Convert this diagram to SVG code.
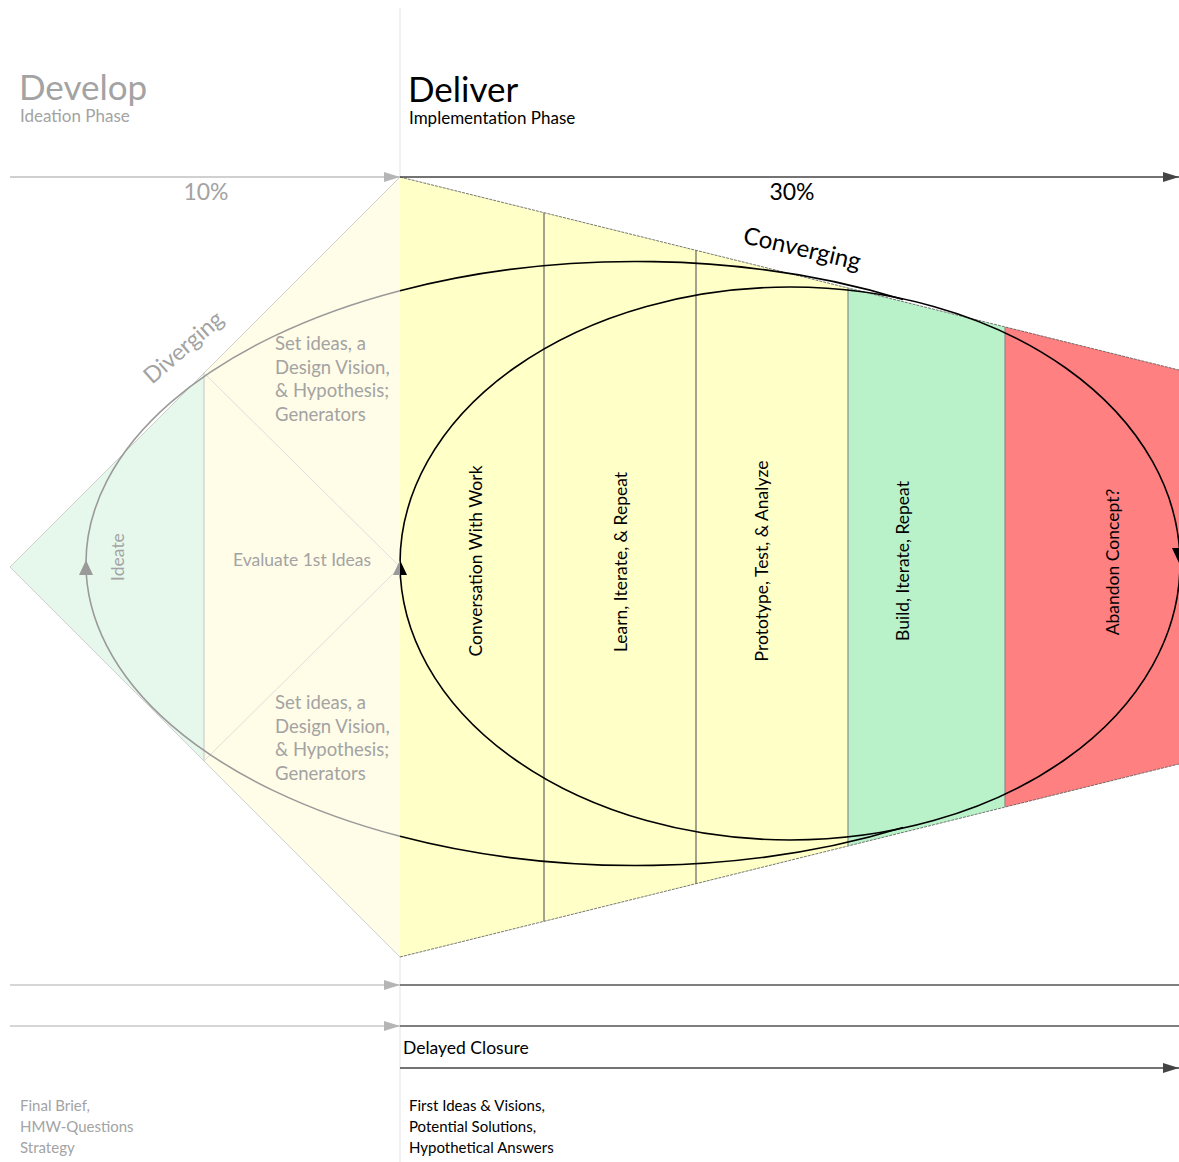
<svg xmlns="http://www.w3.org/2000/svg" width="1179" height="1162" viewBox="0 0 1179 1162">
  <defs>
    <style>
      text { font-family: Lato, "Open Sans", "Liberation Sans", sans-serif; }
      .g { fill: #a3a3a3; }
      .k { fill: #000; }
      .h1 { font-size: 35px; }
      .h2 { font-size: 17px; }
      .pct { font-size: 23px; }
      .lbl { font-size: 17.5px; }
      .body { font-size: 18.5px; }
      .note { font-size: 15px; }
      .edge { stroke: #555; stroke-width: 0.8; stroke-dasharray: 3 1; fill: none; }
      .col { stroke: #666; stroke-width: 1.2; }
      .faint { stroke: #cfcfcf; stroke-width: 1; fill: none; }
      .loop { fill: none; stroke-width: 1.6; }
    </style>
    <marker id="ahGray" markerWidth="16" markerHeight="10" refX="16" refY="5" orient="auto" markerUnits="userSpaceOnUse">
      <path d="M0,0 L16,5 L0,10 z" fill="#b5b5b5"/>
    </marker>
    <marker id="ahDark" markerWidth="16" markerHeight="10" refX="16" refY="5" orient="auto" markerUnits="userSpaceOnUse">
      <path d="M0,0 L16,5 L0,10 z" fill="#444"/>
    </marker>
  </defs>

  <rect width="1179" height="1162" fill="#fff"/>

  <!-- phase divider -->
  <line x1="400" y1="8" x2="400" y2="1162" stroke="#ececec" stroke-width="1.5"/>

  <!-- Develop diamond -->
  <g id="develop-diamond">
    <polygon points="10,567 204,373 204,761" fill="#e6f8ec"/>
    <polygon points="204,373 400,177 400,957 204,761" fill="#fffde8"/>
    <polyline points="400,177 10,567 400,957" class="faint"/>
    <line x1="204" y1="373" x2="204" y2="761" stroke="#c4c4c4" stroke-width="1"/>
    <polyline points="204,373 400,567 204,761" stroke="#dedede" stroke-width="1" fill="none"/>
  </g>

  <!-- Deliver columns -->
  <g id="col-conversation">
    <polygon points="400,177 544,212.7 544,921.3 400,957" fill="#ffffc8"/>
  </g>
  <g id="col-learn">
    <polygon points="544,212.7 696,250.3 696,883.7 544,921.3" fill="#ffffc8"/>
  </g>
  <g id="col-prototype">
    <polygon points="696,250.3 848,288 848,846 696,883.7" fill="#ffffc8"/>
  </g>
  <g id="col-build">
    <polygon points="848,288 1005,326.9 1005,807.1 848,846" fill="#b9f1c9"/>
  </g>
  <g id="col-abandon">
    <polygon points="1005,326.9 1179,370 1179,764 1005,807.1" fill="#ff8080"/>
  </g>
  <g id="funnel-edges">
    <line x1="400" y1="177" x2="1179" y2="370" class="edge"/>
    <line x1="400" y1="957" x2="1179" y2="764" class="edge"/>
    <line x1="544" y1="212.7" x2="544" y2="921.3" class="col"/>
    <line x1="696" y1="250.3" x2="696" y2="883.7" class="col"/>
    <line x1="848" y1="288" x2="848" y2="846" stroke="#8a8a8a" stroke-width="1.2"/>
    <line x1="1005" y1="326.9" x2="1005" y2="807.1" stroke="#8a8a8a" stroke-width="1.2"/>
  </g>

  <!-- Connectors -->
  <g id="connectors">
    <!-- outer loop (Develop part faded, Deliver part merging into inner loop) -->
    <path d="M400,290.7 A550,302 0 0 0 400,836.3" class="loop" stroke="#9a9a9a"/>
    <path d="M400,290.7 A550,302 0 0 1 903,299.5" class="loop" stroke="#000"/>
    <path d="M400,836.3 A550,302 0 0 0 903,827.5" class="loop" stroke="#000"/>
    <!-- inner loop -->
    <ellipse cx="790" cy="563.5" rx="390" ry="276.5" class="loop" stroke="#000"/>
    <!-- loop arrowheads -->
    <polygon points="86,560 79,575 93,575" fill="#9a9a9a"/>
    <polygon points="400,560 393,575 400,575" fill="#9a9a9a"/>
    <polygon points="400,560 407,575 400,575" fill="#000"/>
    <polygon points="1179,563 1172,548 1186,548" fill="#000"/>

    <!-- timeline arrows -->
    <line x1="10" y1="177" x2="400" y2="177" stroke="#c0c0c0" stroke-width="1.5" marker-end="url(#ahGray)"/>
    <line x1="400" y1="177" x2="1179" y2="177" stroke="#444" stroke-width="1.5" marker-end="url(#ahDark)"/>
    <line x1="10" y1="985" x2="400" y2="985" stroke="#c8c8c8" stroke-width="1.5" marker-end="url(#ahGray)"/>
    <line x1="400" y1="985" x2="1179" y2="985" stroke="#555" stroke-width="1.5"/>
    <line x1="10" y1="1026" x2="400" y2="1026" stroke="#c8c8c8" stroke-width="1.5" marker-end="url(#ahGray)"/>
    <line x1="400" y1="1026" x2="1179" y2="1026" stroke="#555" stroke-width="1.5"/>
    <line x1="400" y1="1068" x2="1179" y2="1068" stroke="#444" stroke-width="1.5" marker-end="url(#ahDark)"/>
  </g>

  <!-- Headers -->
  <g id="develop-header">
    <text x="19" y="100" class="g h1">Develop</text>
    <text x="20" y="122" class="g h2">Ideation Phase</text>
    <text x="206" y="200" class="g pct" text-anchor="middle">10%</text>
  </g>
  <g id="deliver-header">
    <text x="408" y="102" class="k h1">Deliver</text>
    <text x="409" y="124" class="k h2">Implementation Phase</text>
    <text x="792" y="200" class="k pct" text-anchor="middle">30%</text>
  </g>

  <!-- Develop labels -->
  <g id="develop-labels">
    <text x="152" y="385" class="g" font-size="23" transform="rotate(-41 152 385)">Diverging</text>
    <text x="124" y="557" class="g lbl" text-anchor="middle" transform="rotate(-90 124 557)">Ideate</text>
    <text x="233" y="566" class="g lbl">Evaluate 1st Ideas</text>
    <text class="g body">
      <tspan x="275" y="350">Set ideas, a</tspan>
      <tspan x="275" y="374">Design Vision,</tspan>
      <tspan x="275" y="397">&amp; Hypothesis;</tspan>
      <tspan x="275" y="421">Generators</tspan>
    </text>
    <text class="g body">
      <tspan x="275" y="709">Set ideas, a</tspan>
      <tspan x="275" y="733">Design Vision,</tspan>
      <tspan x="275" y="756">&amp; Hypothesis;</tspan>
      <tspan x="275" y="780">Generators</tspan>
    </text>
  </g>

  <!-- Deliver labels -->
  <g id="deliver-labels">
    <text x="742" y="243" class="k" font-size="24" transform="rotate(13 742 243)">Converging</text>
    <text x="482" y="561" class="k lbl" text-anchor="middle" transform="rotate(-90 482 561)">Conversation With Work</text>
    <text x="627" y="562" class="k lbl" text-anchor="middle" transform="rotate(-90 627 562)">Learn, Iterate, &amp; Repeat</text>
    <text x="768" y="561" class="k lbl" text-anchor="middle" transform="rotate(-90 768 561)">Prototype, Test, &amp; Analyze</text>
    <text x="909" y="561" class="k lbl" text-anchor="middle" transform="rotate(-90 909 561)">Build, Iterate, Repeat</text>
    <text x="1119" y="562" class="k lbl" text-anchor="middle" transform="rotate(-90 1119 562)">Abandon Concept?</text>
  </g>

  <!-- Bottom notes -->
  <g id="bottom-notes">
    <text x="403" y="1054" class="k lbl">Delayed Closure</text>
    <text class="g note">
      <tspan x="20" y="1111">Final Brief,</tspan>
      <tspan x="20" y="1132">HMW-Questions</tspan>
      <tspan x="20" y="1153">Strategy</tspan>
    </text>
    <text class="k note">
      <tspan x="409" y="1111">First Ideas &amp; Visions,</tspan>
      <tspan x="409" y="1132">Potential Solutions,</tspan>
      <tspan x="409" y="1153">Hypothetical Answers</tspan>
    </text>
  </g>
</svg>
